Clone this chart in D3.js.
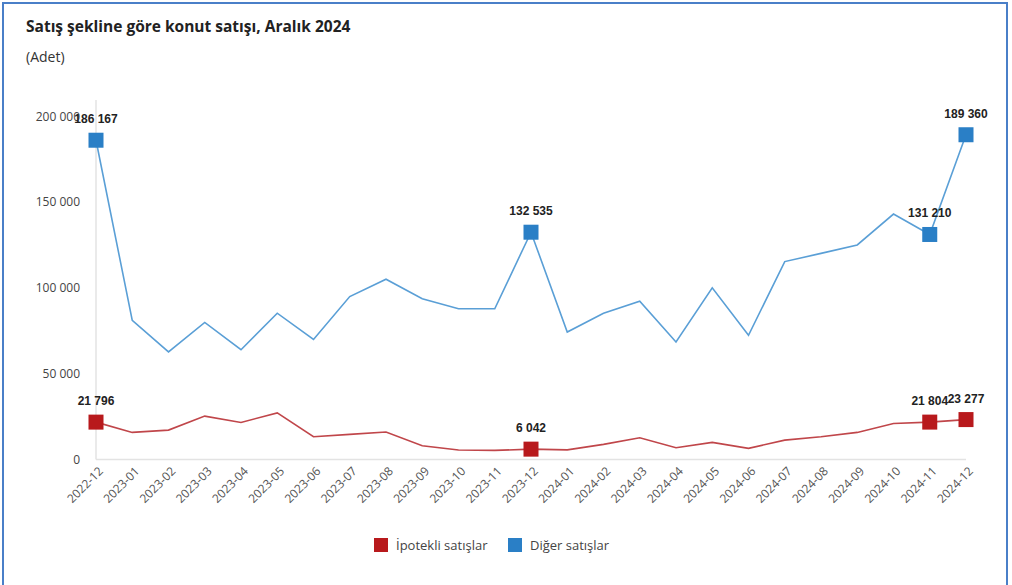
<!DOCTYPE html>
<html>
<head>
<meta charset="utf-8">
<script src="https://cdn.jsdelivr.net/npm/d3@7"></script>
<style>
  body { margin: 0; background: #fff; }
  svg { display: block; }
</style>
</head>
<body>
<svg id="chart" width="1012" height="585"></svg>
<script>
// months on the x axis
const months = ["2022-12","2023-01","2023-02","2023-03","2023-04","2023-05","2023-06","2023-07","2023-08","2023-09","2023-10","2023-11","2023-12",
  "2024-01","2024-02","2024-03","2024-04","2024-05","2024-06","2024-07","2024-08","2024-09","2024-10","2024-11","2024-12"];

// Ipotekli satislar (mortgage sales)
const ipotekli = [21796,15800,17150,25300,21600,27200,13300,14650,16000,8000,5500,5300,6042,
  5600,8800,12700,6900,10000,6500,11300,13300,15800,21000,21804,23277];

// Diger satislar (other sales)
const diger = [186167,81100,62700,79900,64000,85300,70000,95000,105100,93700,87900,87900,132535,
  74300,85300,92300,68500,100100,72400,115400,120200,125100,143100,131210,189360];

// points that get a marker and a value label
const labelled = ["2022-12","2023-12","2024-11","2024-12"];

const yTicks = [0, 50000, 100000, 150000, 200000];

const seriesNames = ["İpotekli satışlar", "Diğer satışlar"];
const lineColors = ["#c0464a", "#5a9fd6"];
const markColors = ["#b8191c", "#2a7fc6"];

const svg = d3.select("#chart");
const fmt = d3.formatLocale({decimal: ",", thousands: " ", grouping: [3], currency: ["", ""]}).format(",d");

// frame
svg.append("rect")
  .attr("x", 3).attr("y", 3)
  .attr("width", 1004).attr("height", 600)
  .attr("fill", "none")
  .attr("stroke", "#4a7fc8")
  .attr("stroke-width", 2);

svg.append("text")
  .attr("x", 26).attr("y", 32)
  .attr("font-family", "Open Sans, sans-serif")
  .attr("font-weight", "bold")
  .attr("font-size", 15.5)
  .attr("fill", "#222")
  .text("Satış şekline göre konut satışı, Aralık 2024");

svg.append("text")
  .attr("x", 26).attr("y", 62)
  .attr("font-family", "Open Sans, sans-serif")
  .attr("font-size", 14)
  .attr("fill", "#333")
  .text("(Adet)");

var x = d3.scalePoint()
  .domain(months)
  .range([96, 966]);

var y = d3.scaleLinear()
  .domain([0, 200000])
  .range([459.5, 116.5]);

// axis lines
svg.append("line")
  .attr("x1", 96).attr("x2", 96)
  .attr("y1", 100).attr("y2", 459.5)
  .attr("stroke", "#e3e3e3").attr("stroke-width", 1.5);

svg.append("line")
  .attr("x1", 96).attr("x2", 966)
  .attr("y1", 459.5).attr("y2", 459.5)
  .attr("stroke", "#e3e3e3").attr("stroke-width", 1.5);

// y tick labels
svg.selectAll("text.ytick")
  .data(yTicks)
  .enter()
  .append("text")
  .attr("class", "ytick")
  .attr("x", 80)
  .attr("y", function(d) { return y(d); })
  .attr("dy", "0.35em")
  .attr("text-anchor", "end")
  .attr("font-family", "Open Sans, sans-serif")
  .attr("font-size", 12)
  .attr("fill", "#444")
  .text(function(d) { return fmt(d); });

// x tick labels
svg.selectAll("text.xtick")
  .data(months)
  .enter()
  .append("text")
  .attr("class", "xtick")
  .attr("transform", function(d) { return "translate(" + (x(d) + 5) + "," + 469 + ") rotate(-45)"; })
  .attr("text-anchor", "end")
  .attr("dy", "0.35em")
  .attr("font-family", "Open Sans, sans-serif")
  .attr("font-size", 12)
  .attr("fill", "#555")
  .text(function(d) { return d; });

var allSeries = [ipotekli, diger];

var line = d3.line()
  .x(function(d, i) { return x(months[i]); })
  .y(function(d) { return y(d); });

allSeries.forEach(function(vals, s) {
  svg.append("path")
    .datum(vals)
    .attr("d", line)
    .attr("fill", "none")
    .attr("stroke", lineColors[s])
    .attr("stroke-width", 1.6);

  var pts = vals.map(function(v, i) { return {m: months[i], v: v}; })
    .filter(function(d) { return labelled.indexOf(d.m) >= 0; });

  svg.selectAll("rect.mk" + s)
    .data(pts)
    .enter()
    .append("rect")
    .attr("class", "mk" + s)
    .attr("x", function(d) { return x(d.m) - 7.5; })
    .attr("y", function(d) { return y(d.v) - 7.5; })
    .attr("width", 15)
    .attr("height", 15)
    .attr("fill", markColors[s]);

  svg.selectAll("text.lb" + s)
    .data(pts)
    .enter()
    .append("text")
    .attr("class", "lb" + s)
    .attr("x", function(d) { return x(d.m); })
    .attr("y", function(d) { return y(d.v) - 17; })
    .attr("text-anchor", "middle")
    .attr("font-family", "Liberation Sans, Arial, sans-serif")
    .attr("font-weight", "bold")
    .attr("font-size", 12)
    .attr("fill", "#222")
    .text(function(d) { return fmt(d.v); });
});

// legend
var legend = svg.append("g").attr("transform", "translate(374,538)");
var legX = [0, 134];
seriesNames.forEach(function(name, i) {
  legend.append("rect")
    .attr("x", legX[i]).attr("y", 0)
    .attr("width", 14).attr("height", 14)
    .attr("fill", markColors[i]);
  legend.append("text")
    .attr("x", legX[i] + 22).attr("y", 7)
    .attr("dy", "0.35em")
    .attr("font-family", "Open Sans, sans-serif")
    .attr("font-size", 13)
    .attr("fill", "#444")
    .text(name);
});
</script>
</body>
</html>
